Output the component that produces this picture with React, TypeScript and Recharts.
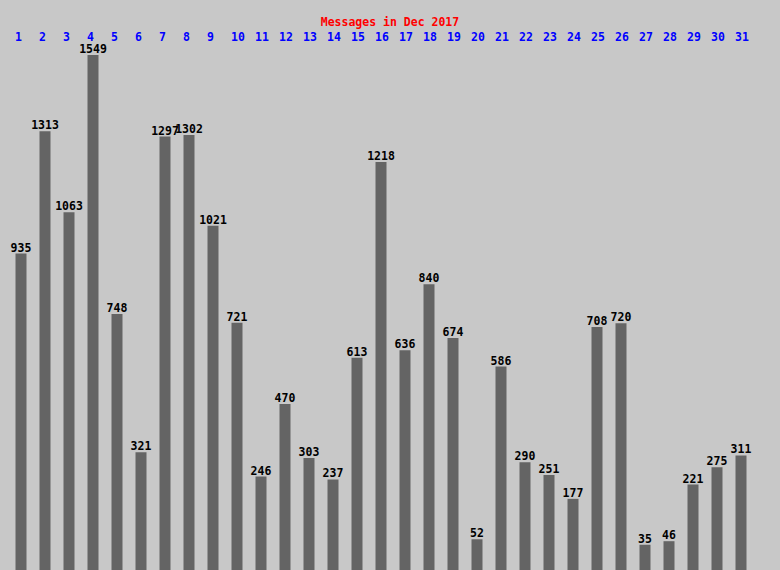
import { BarChart, Bar, XAxis, YAxis, LabelList } from "recharts";

// days of December and message counts
const days: string[] = Array.from({ length: 31 }, (_, i) => String(i + 1));
const counts: number[] = [
  935, 1313, 1063, 1549, 748, 321, 1297, 1302, 1021, 721, 246, 470, 303, 237, 613,
  1218, 636, 840, 674, 52, 586, 290, 251, 177, 708, 720, 35, 46, 221, 275, 311,
];

const title = "Messages in Dec 2017";

// bars start a bit below the zero level, like the original
const FLOOR = -43;
const MAX = 1549;

const data = days.map((day, i) => ({ day, count: counts[i] }));

const FONT = "'DejaVu Sans Mono', monospace";
const FS = 11.5;

const DayTick = (props: any) => {
  const { x, payload } = props;
  return (
    <text
      x={x - 5.5}
      y={41}
      textAnchor="start"
      fill="#0000FF"
      fontFamily={FONT}
      fontWeight="bold"
      fontSize={FS}
    >
      {payload.value}
    </text>
  );
};

export default function App() {
  return (
    <div
      style={{
        position: "absolute",
        left: 0,
        top: 0,
        width: 780,
        height: 570,
        background: "#C8C8C8",
        overflow: "hidden",
      }}
    >
      <div
        style={{
          position: "absolute",
          top: 16,
          left: 0,
          width: 780,
          textAlign: "center",
          color: "#FF0000",
          fontFamily: FONT,
          fontWeight: "bold",
          fontSize: FS,
          lineHeight: "13px",
        }}
      >
        {title}
      </div>
      <BarChart
        width={780}
        height={570}
        data={data}
        margin={{ top: 30, right: 27.5, bottom: 0, left: 8.5 }}
      >
        <XAxis
          dataKey="day"
          orientation="top"
          height={25}
          axisLine={false}
          tickLine={false}
          interval={0}
          tick={<DayTick />}
        />
        <YAxis hide domain={[FLOOR, MAX]} allowDataOverflow />
        <Bar
          dataKey={(d: any) => [FLOOR, d.count]}
          fill="#646464"
          barSize={11}
          isAnimationActive={false}
        >
          <LabelList
            dataKey="count"
            position="top"
            offset={2}
            fill="#000000"
            fontFamily={FONT}
            fontWeight="bold"
            fontSize={FS}
          />
        </Bar>
      </BarChart>
    </div>
  );
}
